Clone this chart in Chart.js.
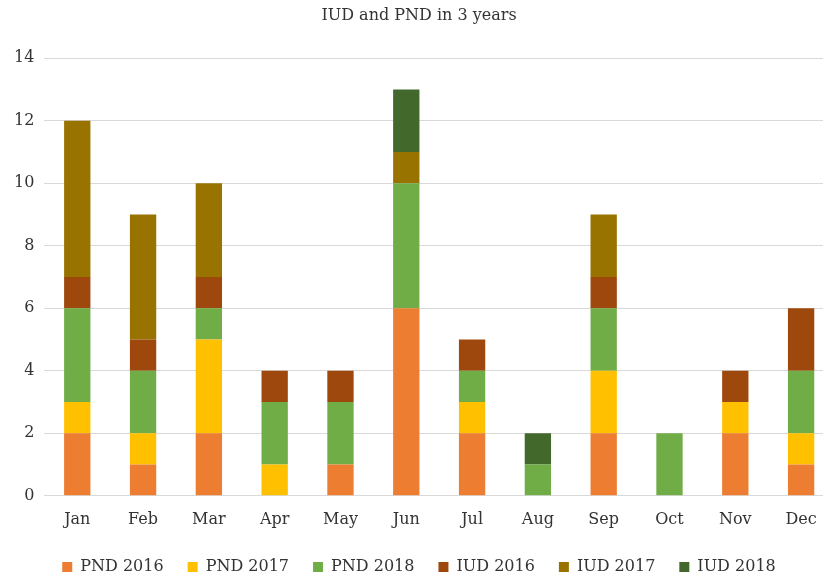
<!DOCTYPE html>
<html>
<head>
<meta charset="utf-8">
<script src="https://cdn.jsdelivr.net/npm/chart.js@4"></script>
<style>
  html, body { margin: 0; padding: 0; background: #fff; overflow: hidden; }
  #wrap { width: 836px; height: 585px; position: relative; }
</style>
</head>
<body>
<div id="wrap"><canvas id="chart"></canvas></div>
<script>
const months = ["Jan", "Feb", "Mar", "Apr", "May", "Jun", "Jul", "Aug", "Sep", "Oct", "Nov", "Dec"];
const pnd2016 = [2, 1, 2, 0, 1, 6, 2, 0, 2, 0, 2, 1];
const pnd2017 = [1, 1, 3, 1, 0, 0, 1, 0, 2, 0, 1, 1];
const pnd2018 = [3, 2, 1, 2, 2, 4, 1, 1, 2, 2, 0, 2];
const iud2016 = [1, 1, 1, 1, 1, 0, 1, 0, 1, 0, 1, 2];
const iud2017 = [5, 4, 3, 0, 0, 1, 0, 0, 2, 0, 0, 0];
const iud2018 = [0, 0, 0, 0, 0, 2, 0, 1, 0, 0, 0, 0];

const fontFamily = "'DejaVu Serif', serif";

function series(label, data, color) {
  return {
    label: label,
    data: data,
    backgroundColor: color,
    borderWidth: 0,
    barPercentage: 0.4,
    categoryPercentage: 1.0
  };
}

new Chart(document.getElementById("chart"), {
  type: "bar",
  data: {
    labels: months,
    datasets: [
      series("PND 2016", pnd2016, "#ED7D31"),
      series("PND 2017", pnd2017, "#FFC000"),
      series("PND 2018", pnd2018, "#70AD47"),
      series("IUD 2016", iud2016, "#9E480E"),
      series("IUD 2017", iud2017, "#997300"),
      series("IUD 2018", iud2018, "#43682B")
    ]
  },
  options: {
    responsive: true,
    maintainAspectRatio: false,
    animation: false,
    layout: { padding: { left: 4, right: 2, top: 6, bottom: 0 } },
    plugins: {
      title: {
        display: true,
        text: "IUD and PND in 3 years",
        color: "#333",
        font: { family: fontFamily, size: 16, weight: "normal" },
        padding: { top: 0, bottom: 33 }
      },
      legend: {
        position: "bottom",
        labels: {
          color: "#333",
          boxWidth: 10,
          boxHeight: 10,
          padding: 24,
          font: { family: fontFamily, size: 16 }
        }
      },
      tooltip: { enabled: false }
    },
    scales: {
      x: {
        stacked: true,
        grid: { display: false },
        border: { color: "#d9d9d9" },
        ticks: { color: "#333", font: { family: fontFamily, size: 16 }, padding: 6 }
      },
      y: {
        stacked: true,
        min: 0,
        max: 14,
        ticks: { stepSize: 2, color: "#333", font: { family: fontFamily, size: 16 }, padding: 10 },
        grid: { color: "#d9d9d9", drawTicks: false },
        border: { display: false }
      }
    }
  }
});
</script>
</body>
</html>
